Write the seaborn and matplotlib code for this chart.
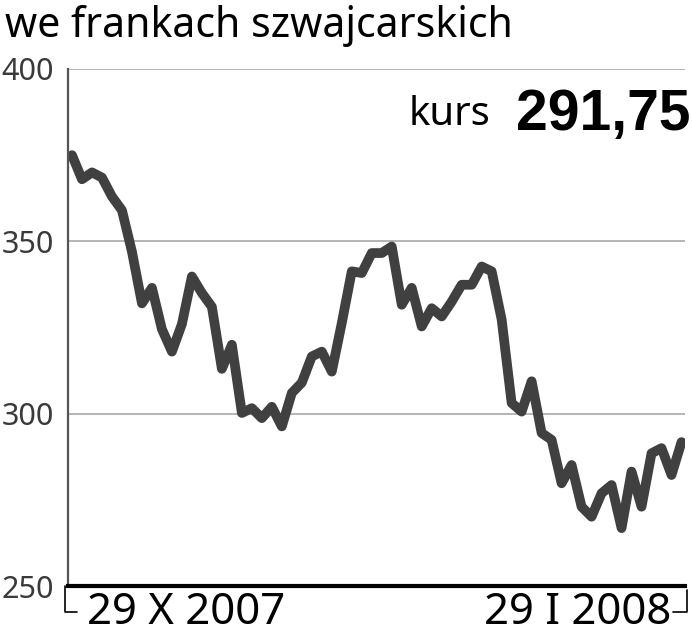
import matplotlib
matplotlib.use("Agg")
import matplotlib.pyplot as plt
import seaborn as sns
import pandas as pd

# trading day index from 29 X 2007 to 29 I 2008 and rate in CHF
days = list(range(62))
rate = [375, 368, 370, 368.5, 363, 359, 347, 332, 336.5, 324.5,
        318, 326, 339.8, 335, 331, 313, 320, 300.2, 301.6, 298.7,
        302, 296.3, 306, 309, 316.6, 318, 312.2, 326.3, 341.3, 340.8,
        346.6, 346.6, 348.5, 331.6, 336.5, 325.3, 330.6, 328.2, 332.5, 337.4,
        337.4, 342.7, 341.3, 327.3, 303.1, 300.6, 309.4, 294.4, 292.4, 279.8,
        285.1, 273, 270.1, 276.9, 279.3, 266.8, 283.2, 273, 288.5, 290,
        282.2, 291.75]
y_ticks = [250, 300, 350, 400]
date_labels = ["29 X 2007", "29 I 2008"]
title = "we frankach szwajcarskich"
last_value = "291,75"

df = pd.DataFrame({"day": days, "rate": rate})

sns.set_style("white")
plt.rcParams["font.family"] = ["Noto Sans", "DejaVu Sans"]

fig = plt.figure(figsize=(6.92, 6.4), dpi=100)
ax = fig.add_axes([68 / 692, 54 / 640, 617 / 692, 517 / 640])

sns.lineplot(data=df, x="day", y="rate", ax=ax, color="#404040",
             linewidth=7, solid_joinstyle="round", solid_capstyle="round")

ax.set_xlim(-0.4, 61.35)
ax.set_ylim(250, 400)
ax.set_yticks(y_ticks)
ax.set_xticks([])
ax.set_xlabel("")
ax.set_ylabel("")
for v in y_ticks[1:]:
    ax.axhline(v, color="#a8a8a8", linewidth=1.2, zorder=0)

for s in ["top", "right"]:
    ax.spines[s].set_visible(False)
ax.spines["left"].set_color("#555555")
ax.spines["left"].set_linewidth(1.6)
ax.spines["bottom"].set_color("black")
ax.spines["bottom"].set_linewidth(3)

ax.tick_params(axis="y", length=0, pad=48)
for lab in ax.get_yticklabels():
    lab.set_fontsize(22)
    lab.set_fontweight("light")
    lab.set_color("#3a3a3a")
    lab.set_horizontalalignment("left")

# corner brackets under the axis
fig.add_artist(plt.Line2D([65 / 692, 65 / 692, 77 / 692],
                          [1 - 586 / 640, 1 - 612 / 640, 1 - 612 / 640],
                          color="black", linewidth=1.2))
fig.add_artist(plt.Line2D([673 / 692, 687 / 692, 687 / 692],
                          [1 - 612 / 640, 1 - 612 / 640, 1 - 590 / 640],
                          color="black", linewidth=1.2))

fig.text(87 / 692, 1 - 613 / 640, date_labels[0], fontsize=31.5,
         va="center", ha="left", color="black")
fig.text(671 / 692, 1 - 613 / 640, date_labels[1], fontsize=31.5,
         va="center", ha="right", color="black")

fig.text(5 / 692, 1 - 26 / 640, title, fontsize=29.5, va="center",
         ha="left", color="black")

fig.text(490 / 692, 1 - 115 / 640, "kurs", fontsize=29, va="center",
         ha="right", color="black")
fig.text(690 / 692, 1 - 115 / 640, last_value, fontsize=41,
         fontweight="bold", va="center", ha="right", color="black",
         family=["Liberation Sans", "DejaVu Sans"])

fig.savefig("out.png", dpi=100)
